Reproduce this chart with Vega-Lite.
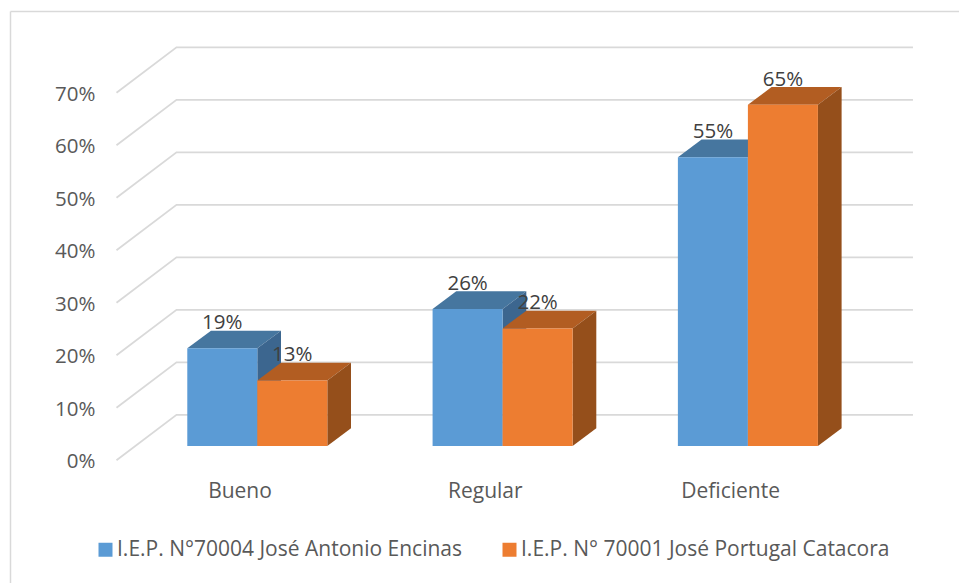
{
"$schema":"https://vega.github.io/schema/vega-lite/v6.json",
"width":959,"height":583,"padding":0,"autosize":{"type":"none"},"background":"white",
"view":{"stroke":null},
"config":{"text":{"font":"Open Sans"},"axis":{"labelFont":"Open Sans","title":null,"grid":false},"axisX":{"disable":true},"legend":{"labelFont":"Open Sans"}},
"datasets":{
"bars":[
{"cat":"Bueno","series":"I.E.P. N°70004 José Antonio Encinas","value":0.186},
{"cat":"Regular","series":"I.E.P. N°70004 José Antonio Encinas","value":0.261},
{"cat":"Deficiente","series":"I.E.P. N°70004 José Antonio Encinas","value":0.55},
{"cat":"Bueno","series":"I.E.P. N° 70001 José Portugal Catacora","value":0.125},
{"cat":"Regular","series":"I.E.P. N° 70001 José Portugal Catacora","value":0.224},
{"cat":"Deficiente","series":"I.E.P. N° 70001 José Portugal Catacora","value":0.65}
],
"ticks":[{"t":0},{"t":0.1},{"t":0.2},{"t":0.3},{"t":0.4},{"t":0.5},{"t":0.6},{"t":0.7}],
"cats":[{"cat":"Bueno"},{"cat":"Regular"},{"cat":"Deficiente"}],
"frame":[{"frame":"chart area"}]
},
"layer":[
{"data":{"name":"frame"},"mark":{"type":"rule","color":"#d9d9d9","strokeWidth":1.5},
 "encoding":{"x":{"datum":-1.0061,"type":"quantitative","scale":{"domain":[-1.04891,2.86059],"nice":false,"zero":false}},
  "y":{"datum":0.8549,"type":"quantitative","scale":{"domain":[-0.23371,0.87676],"nice":false,"zero":false},
   "axis":{"orient":"left","offset":-95,"values":[0,0.1,0.2,0.3,0.4,0.5,0.6,0.7],"format":".0%","title":null,"domain":false,"ticks":false,"grid":false,"labelPadding":0,"labelFontSize":20.5,"labelColor":"#595959","labelFont":"Open Sans","labelOffset":1.5}},
  "y2":{"datum":-0.23371}}},
{"data":{"name":"frame"},"mark":{"type":"rule","color":"#d9d9d9","strokeWidth":1.5},
 "encoding":{"y":{"datum":0.8549,"type":"quantitative"},"x":{"datum":-1.0061,"type":"quantitative"},"x2":{"datum":2.86059}}},
{"data":{"name":"ticks"},
 "transform":[{"calculate":"[0,1,2]","as":"p"},{"flatten":["p"]},
  {"calculate":"datum.p==0?-0.574:datum.p==1?-0.3294:2.6729","as":"gx"},
  {"calculate":"datum.t+(datum.p==0?0:0.0867)","as":"gy"}],
 "mark":{"type":"line","color":"#d9d9d9","strokeWidth":1.8,"interpolate":"linear"},
 "encoding":{"x":{"field":"gx","type":"quantitative"},"y":{"field":"gy","type":"quantitative"},"detail":{"field":"t"}}},
{"data":{"name":"bars"},
 "transform":[
  {"calculate":"indexof(['Bueno','Regular','Deficiente'],datum.cat)","as":"i"},
  {"calculate":"indexof(datum.series,'70004')>=0?0:1","as":"s"},
  {"calculate":"datum.i+(datum.s-1)*0.2854","as":"x0"},
  {"calculate":"datum.x0+0.2854","as":"x1"},
  {"calculate":"datum.value+0.02724","as":"top"},
  {"calculate":"0.02724","as":"base"},
  {"calculate":"datum.top+0.0476","as":"labelY"},
  {"calculate":"(datum.x0+datum.x1)/2","as":"labelX"},
  {"calculate":"[0,1]","as":"c"},{"flatten":["c"]},
  {"calculate":"datum.x0+datum.c*0.0966","as":"xL"},
  {"calculate":"datum.x1+datum.c*0.0966","as":"xR"},
  {"calculate":"datum.top+datum.c*0.0337","as":"yT"},
  {"calculate":"datum.base+datum.c*0.0337","as":"yB"}
 ],
 "layer":[
  {"transform":[{"filter":"datum.s==0"}],"mark":{"type":"area","orient":"horizontal","color":"#46769F"},
   "encoding":{"y":{"field":"yT","type":"quantitative"},"x":{"field":"xL","type":"quantitative","stack":null},"x2":{"field":"xR"},"detail":{"field":"cat"}}},
  {"transform":[{"filter":"datum.s==0"}],"mark":{"type":"area","orient":"vertical","color":"#3C668F"},
   "encoding":{"x":{"field":"xR","type":"quantitative"},"y":{"field":"yB","type":"quantitative","stack":null},"y2":{"field":"yT"},"detail":{"field":"cat"}}},
  {"transform":[{"filter":"datum.s==0 && datum.c==0"}],"mark":{"type":"rect"},
   "encoding":{"x":{"field":"x0","type":"quantitative"},"x2":{"field":"x1"},"y":{"field":"base","type":"quantitative"},"y2":{"field":"top"},
    "color":{"field":"series","type":"nominal","scale":{"domain":["I.E.P. N°70004 José Antonio Encinas","I.E.P. N° 70001 José Portugal Catacora"],"range":["#5B9BD5","#ED7D31"]},
     "legend":{"orient":"none","legendX":95,"legendY":539,"direction":"horizontal","columns":2,"title":null,"symbolType":"square","symbolSize":196,"symbolStrokeWidth":0,"labelFontSize":21,"labelColor":"#595959","labelLimit":500,"columnPadding":36,"labelOffset":1,"symbolOpacity":1}}}},
  {"transform":[{"filter":"datum.s==1"}],"mark":{"type":"area","orient":"horizontal","color":"#B25D22"},
   "encoding":{"y":{"field":"yT","type":"quantitative"},"x":{"field":"xL","type":"quantitative","stack":null},"x2":{"field":"xR"},"detail":{"field":"cat"}}},
  {"transform":[{"filter":"datum.s==1"}],"mark":{"type":"area","orient":"vertical","color":"#954F1B"},
   "encoding":{"x":{"field":"xR","type":"quantitative"},"y":{"field":"yB","type":"quantitative","stack":null},"y2":{"field":"yT"},"detail":{"field":"cat"}}},
  {"transform":[{"filter":"datum.s==1 && datum.c==0"}],"mark":{"type":"rect"},
   "encoding":{"x":{"field":"x0","type":"quantitative"},"x2":{"field":"x1"},"y":{"field":"base","type":"quantitative"},"y2":{"field":"top"},
    "color":{"field":"series","type":"nominal"}}},
  {"transform":[{"filter":"datum.c==0"}],"mark":{"type":"text","fontSize":20.5,"color":"#404040","align":"center","baseline":"middle","font":"Open Sans"},
   "encoding":{"x":{"field":"labelX","type":"quantitative"},"y":{"field":"labelY","type":"quantitative"},"text":{"field":"value","type":"quantitative","format":".0%"}}}
 ]},
{"data":{"name":"cats"},
 "transform":[{"calculate":"indexof(['Bueno','Regular','Deficiente'],datum.cat)-0.0705","as":"cx"}],
 "mark":{"type":"text","fontSize":21,"color":"#595959","align":"center","baseline":"middle","font":"Open Sans"},
 "encoding":{"x":{"field":"cx","type":"quantitative"},"y":{"datum":-0.0605,"type":"quantitative"},"text":{"field":"cat","type":"nominal"}}}
]
}
